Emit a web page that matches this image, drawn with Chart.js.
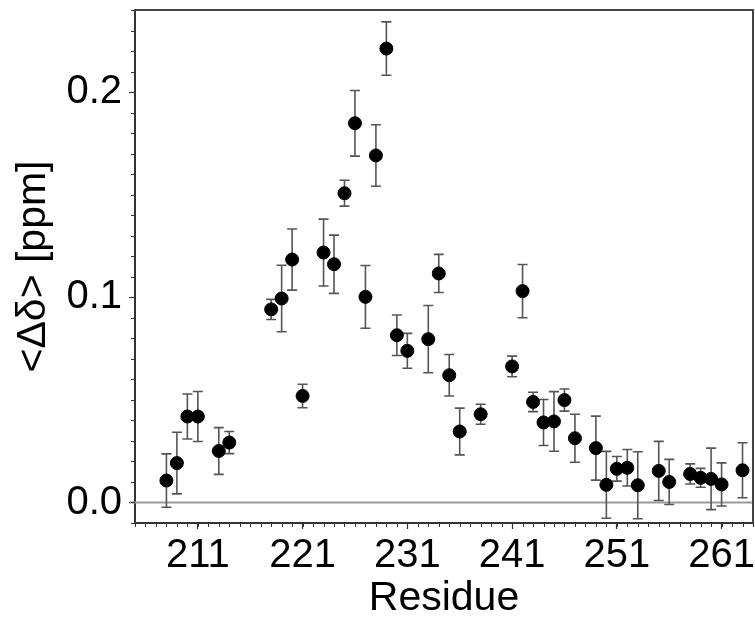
<!DOCTYPE html>
<html lang="en">
<head>
    <meta charset="UTF-8">
    <title>Residue shifts</title>
    <style>
        body {
            margin: 0;
            background: #ffffff;
        }
        #wrap {
            width: 755px;
            height: 621px;
        }
    </style>
    <script src="https://cdn.jsdelivr.net/npm/chart.js"></script>
</head>
<body>
    <div id="wrap"><canvas id="shiftChart" width="755" height="621"></canvas></div>

    <script>
    // residue numbers and mean chemical shift change with its error
    const residues = [208, 209, 210, 211, 213, 214, 218, 219, 220, 221,
                      223, 224, 225, 226, 227, 228, 229, 230, 231, 233,
                      234, 235, 236, 238, 241, 242, 243, 244, 245, 246,
                      247, 249, 250, 251, 252, 253, 255, 256, 258, 259,
                      260, 261, 263];
    const shifts = [0.0107, 0.0192, 0.0419, 0.0419, 0.0251, 0.0292, 0.0941, 0.0994, 0.1184, 0.0519,
                    0.1218, 0.1161, 0.1507, 0.1848, 0.1002, 0.1691, 0.2212, 0.0815, 0.0739, 0.0796,
                    0.1116, 0.0620, 0.0346, 0.0430, 0.0663, 0.1030, 0.0490, 0.0390, 0.0395, 0.0499,
                    0.0313, 0.0265, 0.0086, 0.0164, 0.0169, 0.0084, 0.0154, 0.0100, 0.0139, 0.0120,
                    0.0115, 0.0088, 0.0157];
    const errors = [0.0130, 0.0150, 0.0110, 0.0122, 0.0114, 0.0054, 0.0049, 0.0162, 0.0149, 0.0057,
                    0.0163, 0.0142, 0.0063, 0.0160, 0.0153, 0.0150, 0.0130, 0.0099, 0.0085, 0.0164,
                    0.0093, 0.0101, 0.0114, 0.0049, 0.0050, 0.0130, 0.0047, 0.0112, 0.0145, 0.0054,
                    0.0117, 0.0156, 0.0163, 0.0060, 0.0089, 0.0163, 0.0144, 0.0110, 0.0049, 0.0046,
                    0.0150, 0.0105, 0.0134];

    // axis ticks
    const xTicks = [211, 221, 231, 241, 251, 261];
    const yTicks = [0.0, 0.1, 0.2];
    const xMinorStep = 1;
    const yMinorStep = 0.01;

    const FONT = 'Liberation Sans, Arial, Helvetica, sans-serif';

    // error bars, zero line, minor ticks and frame
    const extras = {
        id: 'extras',
        beforeDatasetsDraw(chart) {
            const ctx = chart.ctx;
            const x = chart.scales.x, y = chart.scales.y;
            const area = chart.chartArea;

            // zero line
            const y0 = y.getPixelForValue(0);
            ctx.save();
            ctx.strokeStyle = '#9a9a9a';
            ctx.lineWidth = 2;
            ctx.beginPath();
            ctx.moveTo(area.left - 5, y0);
            ctx.lineTo(area.right, y0);
            ctx.stroke();

            // error bars
            ctx.strokeStyle = '#555555';
            ctx.lineWidth = 1.6;
            residues.forEach((r, i) => {
                const px = x.getPixelForValue(r);
                const top = y.getPixelForValue(shifts[i] + errors[i]);
                const bot = y.getPixelForValue(shifts[i] - errors[i]);
                ctx.beginPath();
                ctx.moveTo(px, top);
                ctx.lineTo(px, bot);
                ctx.moveTo(px - 5, top);
                ctx.lineTo(px + 5, top);
                ctx.moveTo(px - 5, bot);
                ctx.lineTo(px + 5, bot);
                ctx.stroke();
            });
            ctx.restore();
        },
        afterDraw(chart) {
            const ctx = chart.ctx;
            const x = chart.scales.x, y = chart.scales.y;
            const area = chart.chartArea;
            ctx.save();
            ctx.strokeStyle = '#333333';
            ctx.lineWidth = 1;
            ctx.beginPath();
            for (let v = x.min; v <= x.max + 1e-9; v += xMinorStep) {
                const px = Math.round(x.getPixelForValue(v)) + 0.5;
                ctx.moveTo(px, area.bottom);
                ctx.lineTo(px, area.bottom + 4);
            }
            for (let v = y.min; v <= y.max + 1e-9; v += yMinorStep) {
                const py = Math.round(y.getPixelForValue(v)) + 0.5;
                ctx.moveTo(area.left, py);
                ctx.lineTo(area.left - 4, py);
            }
            ctx.stroke();

            // top and right frame
            ctx.strokeStyle = '#444444';
            ctx.lineWidth = 2;
            ctx.beginPath();
            ctx.moveTo(area.left, area.top);
            ctx.lineTo(area.right, area.top);
            ctx.lineTo(area.right, area.bottom);
            ctx.stroke();
            ctx.restore();
        }
    };

    new Chart(document.getElementById('shiftChart'), {
        type: 'scatter',
        data: {
            datasets: [{
                data: residues.map((r, i) => ({ x: r, y: shifts[i] })),
                backgroundColor: '#000000',
                borderColor: '#000000',
                pointRadius: 6.5,
                pointHoverRadius: 6.5
            }]
        },
        options: {
            responsive: false,
            animation: false,
            layout: { autoPadding: false, padding: { top: 10, right: 2, left: 0, bottom: 0 } },
            plugins: {
                legend: { display: false },
                tooltip: { enabled: false }
            },
            scales: {
                x: {
                    type: 'linear',
                    min: 205,
                    max: 264,
                    afterBuildTicks: s => { s.ticks = xTicks.map(v => ({ value: v })); },
                    afterFit: s => { s.height = 98; s.paddingLeft = 0; s.paddingRight = 0; },
                    grid: { drawOnChartArea: false, tickLength: 6, tickColor: '#333333', tickWidth: 1.2 },
                    border: { color: '#333333', width: 2 },
                    ticks: {
                        autoSkip: false,
                        maxRotation: 0,
                        padding: 3,
                        color: '#000000',
                        font: { family: FONT, size: 40 },
                        callback: v => String(v)
                    },
                    title: {
                        display: true,
                        text: 'Residue',
                        color: '#000000',
                        font: { family: FONT, size: 41, lineHeight: 1 },
                        padding: { top: 0, bottom: 2 }
                    }
                },
                y: {
                    min: -0.01,
                    max: 0.24,
                    afterBuildTicks: s => { s.ticks = yTicks.map(v => ({ value: v })); },
                    afterFit: s => { s.width = 135; s.paddingTop = 0; s.paddingBottom = 0; },
                    grid: { drawOnChartArea: false, tickLength: 6, tickColor: '#333333', tickWidth: 1.2 },
                    border: { color: '#333333', width: 2 },
                    ticks: {
                        padding: 7,
                        color: '#000000',
                        font: { family: FONT, size: 40 },
                        callback: v => Number(v).toFixed(1)
                    },
                    title: {
                        display: true,
                        text: '<Δδ> [ppm]',
                        color: '#000000',
                        font: { family: FONT, size: 41, lineHeight: 1 },
                        padding: { top: 13, bottom: 0 }
                    }
                }
            }
        },
        plugins: [extras]
    });
    </script>
</body>
</html>
